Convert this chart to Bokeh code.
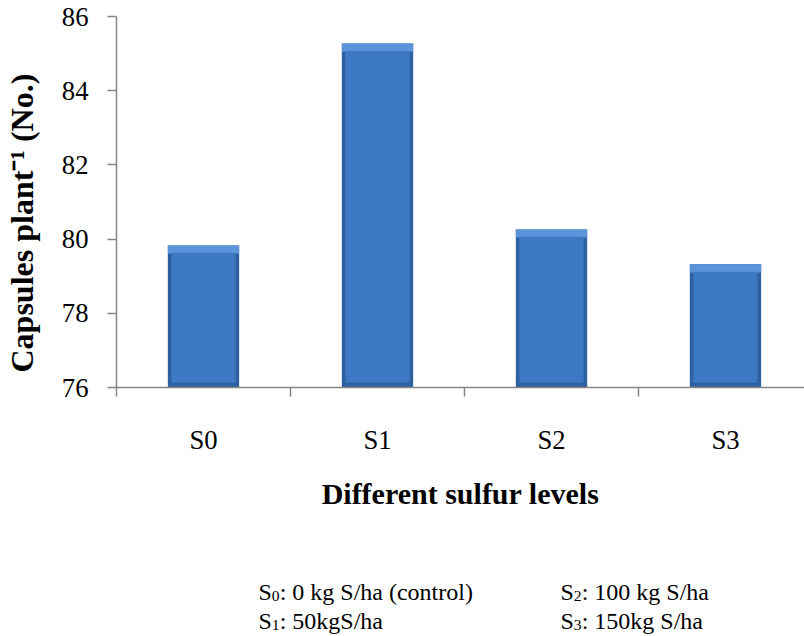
from bokeh.plotting import figure
from bokeh.models import Range1d, FixedTicker, LinearAxis, Title
from bokeh.layouts import column
from bokeh.core.properties import value
from bokeh.embed import file_html
from bokeh.resources import INLINE

# ---- data ----
categories = ["S0", "S1", "S2", "S3"]
capsules = [79.83, 85.27, 80.26, 79.32]
y_ticks = [76, 78, 80, 82, 84, 86]
x_title = "Different sulfur levels"
y_title = "Capsules plant\u207b\u00b9 (No.)"
note_codes = ["0", "1", "2", "3"]
note_texts = [": 0 kg S/ha (control)", ": 50kgS/ha", ": 100 kg S/ha", ": 150kg S/ha"]

FONT = "Liberation Serif"
AXIS_COLOR = "#868686"

W, H = 804, 636
NOTES_H = 96
MAIN_H = H - NOTES_H
LEFT, TOP = 116, 16
FRAME_BOTTOM = 387
CAT_PX = 174.0
frame_w = W - LEFT

xs = list(range(len(categories)))
y0 = y_ticks[0]

p = figure(width=W, height=MAIN_H, output_backend="svg", toolbar_location=None,
           x_range=Range1d(-0.5, -0.5 + frame_w / CAT_PX),
           y_range=Range1d(y_ticks[0], y_ticks[-1]),
           x_axis_type=None, y_axis_type=None,
           min_border_left=LEFT, min_border_right=0,
           min_border_top=TOP, min_border_bottom=MAIN_H - FRAME_BOTTOM)
p.outline_line_color = None
p.background_fill_color = "white"
p.border_fill_color = "white"
p.xgrid.visible = False
p.ygrid.visible = False

# y axis (a blank axis label acts as a spacer before the side title)
yax = LinearAxis(ticker=FixedTicker(ticks=y_ticks))
yax.axis_line_color = AXIS_COLOR
yax.axis_line_width = 1.5
yax.major_tick_line_color = AXIS_COLOR
yax.major_tick_line_width = 1.5
yax.major_tick_out = 9
yax.major_tick_in = 0
yax.minor_tick_line_color = None
yax.major_label_text_font = FONT
yax.major_label_text_font_size = "26.7px"
yax.major_label_text_color = "black"
yax.major_label_standoff = 19
yax.axis_label = "\u00a0"
yax.axis_label_text_font_size = "10px"
yax.axis_label_standoff = 5
p.add_layout(yax, "left")

# y title as a side title so it can be placed along the axis
p.add_layout(Title(text=y_title, align="left", offset=15, standoff=0,
                   text_font=FONT, text_font_size="32px", text_font_style="bold",
                   text_color="black"), "left")

# x axis: labels at category centres, tick marks between categories
bounds = [x - 0.5 for x in xs] + [xs[-1] + 0.5]
xax = LinearAxis(ticker=FixedTicker(ticks=xs, minor_ticks=bounds))
xax.major_label_overrides = {x: c for x, c in zip(xs, categories)}
xax.axis_line_color = AXIS_COLOR
xax.axis_line_width = 1.5
xax.major_tick_line_color = None
xax.major_tick_out = 0
xax.major_tick_in = 0
xax.minor_tick_line_color = AXIS_COLOR
xax.minor_tick_line_width = 1.5
xax.minor_tick_out = 9
xax.minor_tick_in = 0
xax.major_label_text_font = FONT
xax.major_label_text_font_size = "26.7px"
xax.major_label_text_color = "black"
xax.major_label_standoff = 28
xax.axis_label = x_title
xax.axis_label_text_font = FONT
xax.axis_label_text_font_size = "30px"
xax.axis_label_text_font_style = "bold"
xax.axis_label_text_color = "black"
xax.axis_label_standoff = 19
p.add_layout(xax, "below")

# bars with a simple bevel look
p.vbar(x=xs, width=0.41, bottom=y0, top=capsules,
       fill_color="#2E5F9E", line_color=None)
p.vbar(x=xs, width=0.41, bottom=[v - 0.22 for v in capsules], top=capsules,
       fill_color="#5B94DA", line_color=None)
p.vbar(x=xs, width=0.37, bottom=y0 + 0.13, top=[v - 0.2 for v in capsules],
       fill_color="#3C78C4", line_color=None)

# ---- notes panel (pixel-like coordinates, frame aligned with main frame) ----
n = figure(width=W, height=NOTES_H, output_backend="svg", toolbar_location=None,
           x_range=Range1d(LEFT, W), y_range=Range1d(0, NOTES_H),
           x_axis_type=None, y_axis_type=None,
           min_border_left=LEFT, min_border_right=0, min_border_top=0, min_border_bottom=0)
n.outline_line_color = None
n.xgrid.visible = False
n.ygrid.visible = False

FS = 24.0
col_x = [258, 258, 560, 560]
row_px = [591, 620]
line_y = [NOTES_H - (row_px[i % 2] - MAIN_H) for i in range(4)]
s_w = 0.556 * FS
sub_fs = FS * 0.65
sub_w = 0.5 * sub_fs

n.text(x=col_x, y=line_y, text=["S"] * 4, text_font=value(FONT), text_font_size="24px",
       text_baseline="alphabetic", text_align="left", text_color="black")
n.text(x=[c + s_w for c in col_x], y=[v - 4 for v in line_y], text=note_codes,
       text_font=value(FONT), text_font_size=f"{sub_fs:.1f}px",
       text_baseline="alphabetic", text_align="left", text_color="black")
n.text(x=[c + s_w + sub_w for c in col_x], y=line_y, text=note_texts,
       text_font=value(FONT), text_font_size="24px",
       text_baseline="alphabetic", text_align="left", text_color="black")

layout = column(p, n, spacing=0)
open("out.html", "w").write(file_html(layout, INLINE))
